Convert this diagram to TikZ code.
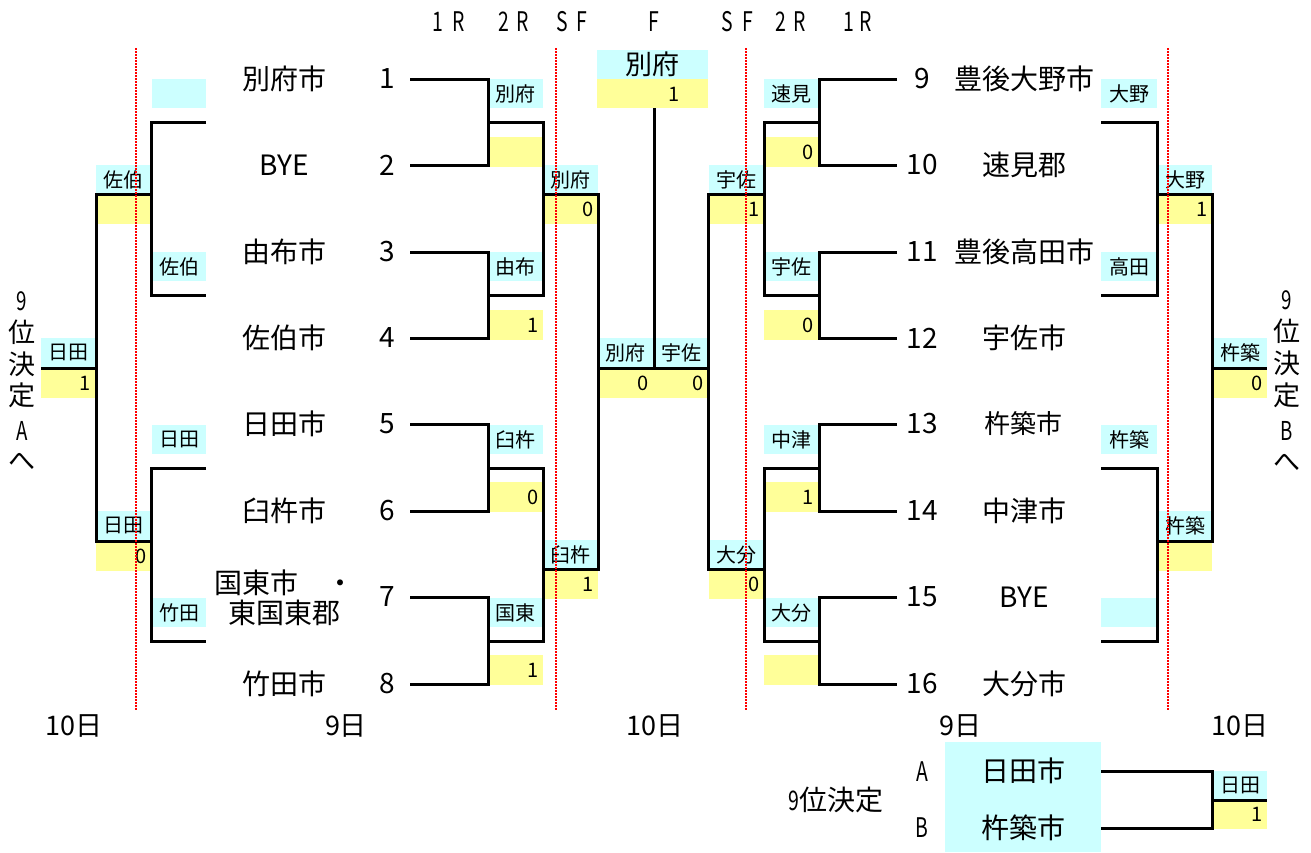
\documentclass[tikz,border=0pt]{standalone}
\usepackage{fontspec}
\setmainfont{Noto Sans CJK JP}
\usepackage{graphicx}
\definecolor{cyanbg}{HTML}{CCFFFF}
\definecolor{yelbg}{HTML}{FFFF99}
\newcommand\fs[1]{\fontsize{#1}{#1}\selectfont}
\newcommand\nar[1]{\scalebox{0.72}[1]{#1}}
\tikzset{
  lab/.style={fill=cyanbg, inner sep=0pt, anchor=north west, minimum width=55pt, minimum height=29pt, font=\fs{20}},
  sc/.style={fill=yelbg, inner sep=0pt, anchor=north west, minimum width=55pt, minimum height=30pt, font=\fs{20}, text width=45pt, align=right},
  br/.style={line width=3pt, line join=miter},
  sepline/.style={red, line width=1.5pt, dash pattern=on 1.5pt off 1.5pt},
  team/.style={font=\fs{28}, inner sep=0pt},
  num/.style={font=\fs{28}, inner sep=0pt},
  hdr/.style={font=\fs{27}, inner sep=0pt},
  vtx/.style={font=\fs{27}, inner sep=0pt},
}
\begin{document}
\begin{tikzpicture}[x=1pt,y=-1pt]
\useasboundingbox (0,0) rectangle (1311,852);

% ---------- header ----------
\node[hdr] (h1) at (438,22) {\nar{1}};
\node[hdr] (h2) at (459,22) {\nar{R}};
\node[hdr] (h3) at (504,22) {\nar{2}};
\node[hdr] (h4) at (523,22) {\nar{R}};
\node[hdr] (h5) at (562,22) {\nar{S}};
\node[hdr] (h6) at (582,22) {\nar{F}};
\node[hdr] (h7) at (654,22) {\nar{F}};
\node[hdr] (h8) at (727,22) {\nar{S}};
\node[hdr] (h9) at (748,22) {\nar{F}};
\node[hdr] (h10) at (781,22) {\nar{2}};
\node[hdr] (h11) at (800,22) {\nar{R}};
\node[hdr] (h12) at (849,22) {\nar{1}};
\node[hdr] (h13) at (866,22) {\nar{R}};

% ---------- boxes: left main ----------
\node[lab] (l2a) at (488,79) {別府};
\node[sc] (l2as) at (488,137) {};
\node[lab] (l2b) at (488,252) {由布};
\node[sc] (l2bs) at (488,310) {1};
\node[lab] (l2c) at (488,425) {臼杵};
\node[sc] (l2cs) at (488,482) {0};
\node[lab] (l2d) at (488,598) {国東};
\node[sc] (l2ds) at (488,655) {1};
\node[lab] (lsa) at (543,165) {別府};
\node[sc] (lsas) at (543,194) {0};
\node[lab] (lsb) at (543,540) {臼杵};
\node[sc] (lsbs) at (543,569) {1};

% ---------- final ----------
\node[lab, minimum width=111pt, font=\fs{27}] (fw) at (597,50) {別府};
\node[fill=yelbg, anchor=north west, minimum width=111pt, minimum height=29pt, inner sep=0pt] (fws) at (597,79) {};
\node[font=\fs{20}, inner sep=0pt] (fwn) at (674,94) {1};
\node[lab] (fa) at (598,338) {別府};
\node[lab, minimum width=53pt] (fb) at (655,338) {宇佐};
\node[sc] (fas) at (598,368) {0};
\node[sc] (fbs) at (653,368) {0};

% ---------- boxes: right main ----------
\node[lab] (rsa) at (709,165) {宇佐};
\node[sc] (rsas) at (709,194) {1};
\node[lab] (rsb) at (709,540) {大分};
\node[sc] (rsbs) at (709,569) {0};
\node[lab, minimum width=54pt] (r2a) at (764,79) {速見};
\node[sc, minimum width=54pt] (r2as) at (764,137) {0};
\node[lab, minimum width=54pt] (r2b) at (764,252) {宇佐};
\node[sc, minimum width=54pt] (r2bs) at (764,310) {0};
\node[lab, minimum width=54pt] (r2c) at (764,425) {中津};
\node[sc, minimum width=54pt] (r2cs) at (764,482) {1};
\node[lab, minimum width=54pt] (r2d) at (764,598) {大分};
\node[sc, minimum width=54pt] (r2ds) at (764,655) {};

% ---------- left consolation ----------
\node[lab, minimum width=54pt] (lc1a) at (152,79) {};
\node[lab, minimum width=54pt] (lc1b) at (152,252) {佐伯};
\node[lab, minimum width=54pt] (lc1c) at (152,425) {日田};
\node[lab, minimum width=54pt] (lc1d) at (152,598) {竹田};
\node[lab] (lc2a) at (96,165) {佐伯};
\node[sc] (lc2as) at (96,194) {};
\node[lab] (lc2b) at (96,511) {日田};
\node[sc] (lc2bs) at (96,541) {0};
\node[lab, minimum width=54pt] (lc3) at (41,338) {日田};
\node[sc, minimum width=54pt] (lc3s) at (41,368) {1};

% ---------- right consolation ----------
\node[lab, minimum width=56pt] (rc1a) at (1101,79) {大野};
\node[lab, minimum width=56pt] (rc1b) at (1101,252) {高田};
\node[lab, minimum width=56pt] (rc1c) at (1101,425) {杵築};
\node[lab, minimum width=56pt] (rc1d) at (1101,598) {};
\node[lab, minimum width=54pt] (rc2a) at (1158,165) {大野};
\node[sc, minimum width=54pt] (rc2as) at (1158,194) {1};
\node[lab, minimum width=54pt] (rc2b) at (1158,511) {杵築};
\node[sc, minimum width=54pt] (rc2bs) at (1158,541) {};
\node[lab, minimum width=54pt] (rc3) at (1213,338) {杵築};
\node[sc, minimum width=54pt] (rc3s) at (1213,368) {0};

% ---------- bottom 9th place ----------
\node[fill=cyanbg, anchor=north west, minimum width=156pt, minimum height=110pt, inner sep=0pt] (bb) at (945,742) {};
\node[team] (bA) at (1023,771) {日田市};
\node[team] (bB) at (1023,828) {杵築市};
\node[vtx] (bAl) at (922,772) {\nar{A}};
\node[vtx] (bBl) at (922,828) {\nar{B}};
\node[vtx] (b9) at (836,800) {\fs{27}\nar{9}\fs{28}位決定};
\node[lab, minimum width=54pt, minimum height=28pt] (bw) at (1213,771) {日田};
\node[sc, minimum width=54pt, minimum height=29pt] (bws) at (1213,800) {1};

% ---------- team names ----------
\node[team] (t1) at (284,79) {別府市};
\node[team] (t2) at (284,165) {BYE};
\node[team] (t3) at (284,252) {由布市};
\node[team] (t4) at (284,338) {佐伯市};
\node[team] (t5) at (284,424) {日田市};
\node[team] (t6) at (284,511) {臼杵市};
\node[team, align=center, font=\fontsize{28}{30}\selectfont] (t7) at (284,598) {国東市　・\\東国東郡};
\node[team] (t8) at (284,684) {竹田市};
\node[num] (n1) at (387,79) {1};
\node[num] (n2) at (387,165) {2};
\node[num] (n3) at (387,252) {3};
\node[num] (n4) at (387,338) {4};
\node[num] (n5) at (387,424) {5};
\node[num] (n6) at (387,511) {6};
\node[num] (n7) at (387,597) {7};
\node[num] (n8) at (387,684) {8};

\node[num] (n9) at (922,79) {9};
\node[num] (n10) at (922,165) {10};
\node[num] (n11) at (922,252) {11};
\node[num] (n12) at (922,338) {12};
\node[num] (n13) at (922,424) {13};
\node[num] (n14) at (922,511) {14};
\node[num] (n15) at (922,597) {15};
\node[num] (n16) at (922,684) {16};
\node[team] (t9) at (1024,79) {豊後大野市};
\node[team] (t10) at (1024,165) {速見郡};
\node[team] (t11) at (1024,252) {豊後高田市};
\node[team] (t12) at (1024,338) {宇佐市};
\node[team, font=\fs{26}] (t13) at (1023,424) {杵築市};
\node[team] (t14) at (1024,511) {中津市};
\node[team] (t15) at (1024,597) {BYE};
\node[team] (t16) at (1024,684) {大分市};

% ---------- dates ----------
\node[vtx] (d1) at (74,726) {10日};
\node[vtx] (d2) at (346,726) {9日};
\node[vtx] (d3) at (655,726) {10日};
\node[vtx] (d4) at (960,726) {9日};
\node[vtx] (d5) at (1240,726) {10日};

% ---------- vertical texts ----------
\node[vtx, font=\fs{26}] (va1) at (22,301) {\nar{9}};
\node[vtx] (va2) at (22,332) {位};
\node[vtx] (va3) at (22,364) {決};
\node[vtx] (va4) at (22,395) {定};
\node[vtx, font=\fs{26}] (va5) at (22,431) {\nar{A}};
\node[vtx] (va6) at (22,462) {へ};
\node[vtx, font=\fs{26}] (vb1) at (1287,300) {\nar{9}};
\node[vtx] (vb2) at (1287,331) {位};
\node[vtx] (vb3) at (1287,363) {決};
\node[vtx] (vb4) at (1287,395) {定};
\node[vtx, font=\fs{26}] (vb5) at (1287,431) {\nar{B}};
\node[vtx] (vb6) at (1287,463) {へ};

% ---------- bracket lines: left main ----------
\draw[br] (410,79) -- (488,79) -- (488,165) -- (410,165);
\draw[br] (410,252) -- (488,252) -- (488,338) -- (410,338);
\draw[br] (410,424) -- (488,424) -- (488,511) -- (410,511);
\draw[br] (410,597) -- (488,597) -- (488,684) -- (410,684);
\draw[br] (488,122) -- (543,122) -- (543,295) -- (488,295);
\draw[br] (488,468) -- (543,468) -- (543,641) -- (488,641);
\draw[br] (543,194) -- (598,194) -- (598,569) -- (543,569);
% final
\draw[br] (598,368) -- (708,368);
\draw[br] (654,108) -- (654,368);
% right main
\draw[br] (764,194) -- (708,194) -- (708,569) -- (764,569);
\draw[br] (819,122) -- (764,122) -- (764,295) -- (819,295);
\draw[br] (819,468) -- (764,468) -- (764,641) -- (819,641);
\draw[br] (897,79) -- (819,79) -- (819,165) -- (897,165);
\draw[br] (897,252) -- (819,252) -- (819,338) -- (897,338);
\draw[br] (897,424) -- (819,424) -- (819,511) -- (897,511);
\draw[br] (897,597) -- (819,597) -- (819,684) -- (897,684);
% left consolation
\draw[br] (206,122) -- (151,122) -- (151,295) -- (206,295);
\draw[br] (206,468) -- (151,468) -- (151,641) -- (206,641);
\draw[br] (151,194) -- (96,194) -- (96,541) -- (151,541);
\draw[br] (96,368) -- (41,368);
% right consolation
\draw[br] (1101,122) -- (1157,122) -- (1157,295) -- (1101,295);
\draw[br] (1101,468) -- (1157,468) -- (1157,641) -- (1101,641);
\draw[br] (1157,194) -- (1212,194) -- (1212,541) -- (1157,541);
\draw[br] (1212,368) -- (1267,368);
% bottom
\draw[br] (1101,771) -- (1212,771) -- (1212,828) -- (1101,828);
\draw[br] (1212,800) -- (1267,800);

% ---------- red dotted separators ----------
\draw[sepline] (136,48) -- (136,710);
\draw[sepline] (556,48) -- (556,710);
\draw[sepline] (746,48) -- (746,710);
\draw[sepline] (1168,48) -- (1168,710);
\end{tikzpicture}
\end{document}
